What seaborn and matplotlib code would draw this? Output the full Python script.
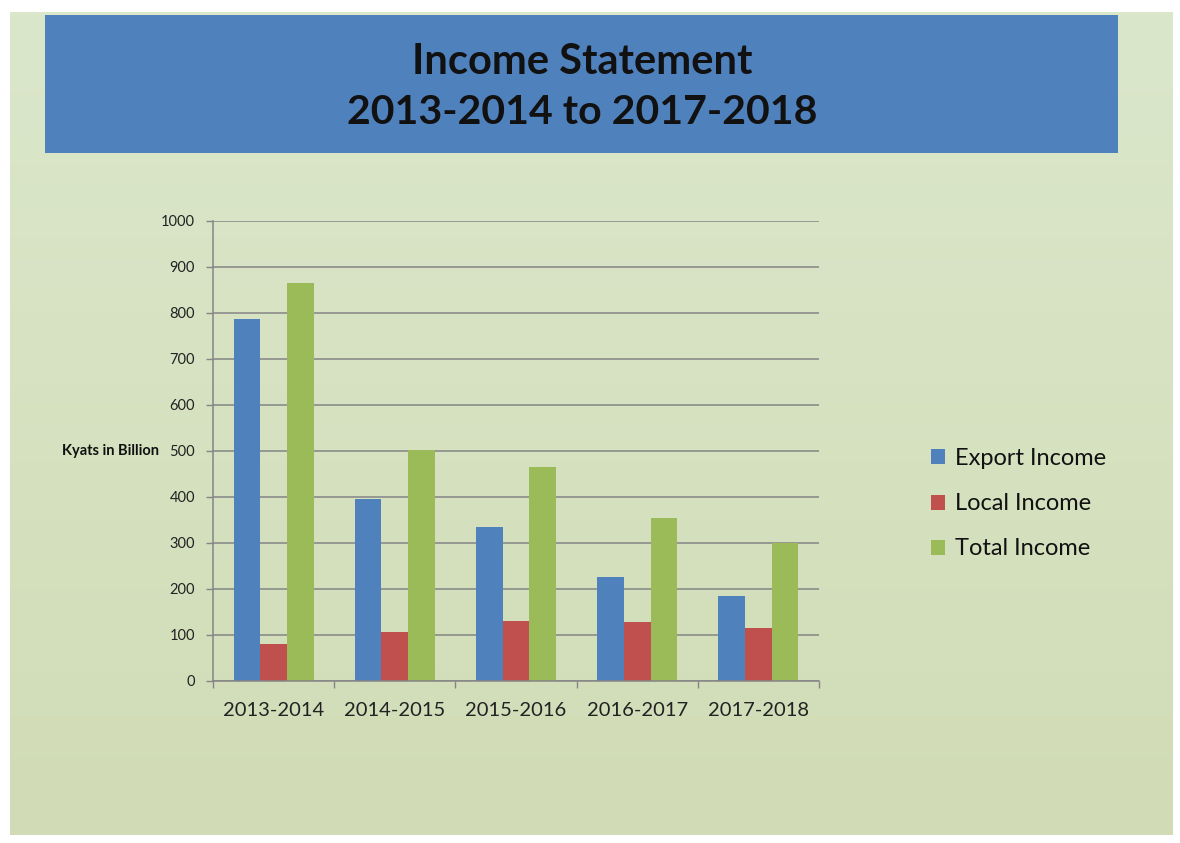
import numpy as np
import pandas as pd
import matplotlib
matplotlib.use("Agg")
import matplotlib.pyplot as plt
from matplotlib.patches import Rectangle
from matplotlib.ticker import FixedLocator
import seaborn as sns

# ---- data ----
years = ["2013-2014", "2014-2015", "2015-2016", "2016-2017", "2017-2018"]
export_income = [786, 396, 335, 226, 185]
local_income = [80, 107, 130, 129, 115]
total_income = [866, 502, 465, 354, 301]
series_names = ["Export Income", "Local Income", "Total Income"]
yticks = [0, 100, 200, 300, 400, 500, 600, 700, 800, 900, 1000]
title_lines = ["Income Statement", "2013-2014 to 2017-2018"]
ylabel = "Kyats in Billion"

colors = ["#4f81bd", "#c0504d", "#9bbb59"]

df = pd.DataFrame({
    "year": years * 3,
    "series": [series_names[0]] * 5 + [series_names[1]] * 5 + [series_names[2]] * 5,
    "value": export_income + local_income + total_income,
})

sns.set_theme(style="white")
plt.rcParams["font.family"] = ["Lato", "DejaVu Sans"]

W, H = 1180, 843
fig = plt.figure(figsize=(W / 100, H / 100), dpi=100)
fig.patch.set_facecolor("white")

# gradient background panel
bg = fig.add_axes([10 / W, 1 - 835 / H, 1163 / W, 823 / H], zorder=0)
top = np.array([219, 231, 203]) / 255
bot = np.array([209, 220, 182]) / 255
t = np.linspace(0, 1, 256)[:, None]
grad = top[None, :] * (1 - t) + bot[None, :] * t
grad = np.repeat(grad[:, None, :], 2, axis=1)
bg.imshow(grad, aspect="auto", extent=[0, 1, 0, 1])
bg.set_axis_off()

# title banner
fig.patches.append(Rectangle((45 / W, 1 - 153 / H), 1073 / W, 138 / H,
                             transform=fig.transFigure, facecolor="#4f81bd",
                             edgecolor="none", zorder=1))
fig.text(582 / W, 1 - 62 / H, title_lines[0], ha="center", va="center",
         fontsize=30, fontweight="bold", color="#111111", zorder=2)
fig.text(582 / W, 1 - 112 / H, title_lines[1], ha="center", va="center",
         fontsize=29.5, fontweight="bold", color="#111111", zorder=2)

# main axes
ax = fig.add_axes([213 / W, 1 - 681 / H, 606 / W, 460 / H], zorder=3)
ax.set_facecolor("none")
sns.barplot(data=df, x="year", y="value", hue="series", palette=colors,
            order=years, hue_order=series_names, width=0.66, saturation=1,
            gap=0, ax=ax, legend=True, edgecolor="none", linewidth=0)

ax.set_ylim(0, 1000)
ax.set_xlim(-0.5, len(years) - 0.5)
ax.yaxis.set_major_locator(FixedLocator(yticks))
ax.grid(axis="y", color="#858585", linewidth=1.1)
ax.set_axisbelow(True)
for s in ["top", "right"]:
    ax.spines[s].set_visible(False)
for s in ["left", "bottom"]:
    ax.spines[s].set_color("#858585")
    ax.spines[s].set_linewidth(1.1)

ax.tick_params(axis="y", which="major", length=5, width=1, color="#858585",
               direction="out", labelsize=10.5, labelcolor="#222222", pad=8, left=True)
ax.tick_params(axis="x", which="major", length=0, labelsize=14.5,
               labelcolor="#222222", pad=15)
ax.xaxis.set_minor_locator(FixedLocator(np.arange(-0.5, len(years), 1.0)))
ax.tick_params(axis="x", which="minor", length=5, width=1, color="#858585",
               direction="out", bottom=True)
ax.set_xlabel("")
ax.set_ylabel("")
fig.text(110 / W, 1 - 451 / H, ylabel, ha="center", va="center",
         fontsize=10.5, fontweight="bold", color="#111111", zorder=4)

handles, labels = ax.get_legend_handles_labels()
ax.get_legend().remove()
fig.legend(handles, labels, loc="upper left",
           bbox_to_anchor=(910 / W, 1 - 427 / H), frameon=False,
           fontsize=17, handlelength=0.6, handleheight=0.6,
           handletextpad=0.4, labelspacing=1.02, labelcolor="#111111")

fig.savefig("out.png", dpi=100, facecolor="white")
